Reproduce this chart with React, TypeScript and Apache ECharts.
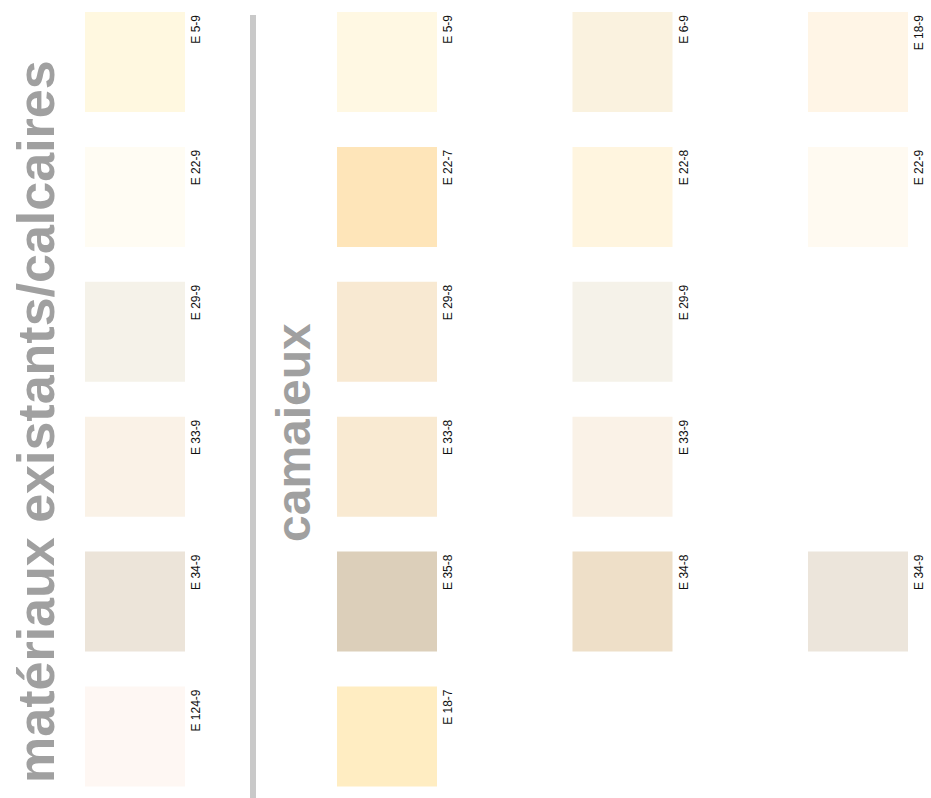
import React, { useEffect, useRef } from "react";
import * as echarts from "echarts";

// Rows of the colour chart (top to bottom)
const rows = ["r1", "r2", "r3", "r4", "r5", "r6"];

// Left block: matériaux existants / calcaires
const existingColumn = ["existants"];
const existingCodes = ["E 5-9", "E 22-9", "E 29-9", "E 33-9", "E 34-9", "E 124-9"];
const existingColors = ["#fff8e0", "#fffcf3", "#f5f2e9", "#faf2e7", "#ece4d9", "#fef7f3"];

// Right block: camaïeux, three columns (null = empty cell)
const camaieuxColumns = ["c1", "c2", "c3"];
const camaieux1Codes = ["E 5-9", "E 22-7", "E 29-8", "E 33-8", "E 35-8", "E 18-7"];
const camaieux1Colors = ["#fff8e3", "#fee5b9", "#f8e9d2", "#f9ead2", "#dccfba", "#ffedc2"];
const camaieux2Codes = ["E 6-9", "E 22-8", "E 29-9", "E 33-9", "E 34-8", null];
const camaieux2Colors = ["#faf2df", "#fff5df", "#f5f2e9", "#faf2e7", "#eedfc8", null];
const camaieux3Codes = ["E 18-9", "E 22-9", null, null, "E 34-9", null];
const camaieux3Colors = ["#fff5e6", "#fffaf1", null, null, "#ece5db", null];

const titleExisting = "matériaux existants/calcaires";
const titleCamaieux = "camaieux";

function cells(col: string, codes: (string | null)[], colors: (string | null)[]) {
  const out: any[] = [];
  codes.forEach((code, i) => {
    if (code && colors[i]) {
      out.push({ name: code, value: [col, rows[i]], itemStyle: { color: colors[i], opacity: 1 } });
    }
  });
  return out;
}

export default function App() {
  const ref = useRef<HTMLDivElement>(null);
  useEffect(() => {
    if (!ref.current) return;
    const chart = echarts.init(ref.current, undefined, { renderer: "svg" });
    const label = {
      show: true,
      formatter: "{b}",
      position: [111, 3],
      rotate: 90,
      align: "right",
      verticalAlign: "middle",
      fontSize: 12,
      fontFamily: "Liberation Sans",
      color: "#111",
    };
    const yAxisBase = {
      type: "category",
      data: rows,
      inverse: true,
      boundaryGap: false,
      show: false,
    };
    const seriesBase = {
      type: "scatter",
      symbol: "rect",
      symbolSize: [100, 100],
      silent: true,
      itemStyle: { opacity: 1 },
      label,
      emphasis: { disabled: true },
    };
    chart.setOption({
      animation: false,
      backgroundColor: "#ffffff",
      grid: [
        { left: 85, width: 100, top: 62, height: 674.5 },
        { left: 387, width: 471, top: 62, height: 674.5 },
      ],
      xAxis: [
        { type: "category", data: existingColumn, gridIndex: 0, boundaryGap: true, show: false },
        { type: "category", data: camaieuxColumns, gridIndex: 1, boundaryGap: false, show: false },
      ],
      yAxis: [
        { ...yAxisBase, gridIndex: 0 },
        { ...yAxisBase, gridIndex: 1 },
      ],
      series: [
        { ...seriesBase, xAxisIndex: 0, yAxisIndex: 0, data: cells("existants", existingCodes, existingColors) },
        {
          ...seriesBase,
          xAxisIndex: 1,
          yAxisIndex: 1,
          data: [
            ...cells("c1", camaieux1Codes, camaieux1Colors),
            ...cells("c2", camaieux2Codes, camaieux2Colors),
            ...cells("c3", camaieux3Codes, camaieux3Colors),
          ],
        },
      ],
      graphic: [
        {
          type: "text",
          x: 36,
          y: 783,
          rotation: Math.PI / 2,
          silent: true,
          style: {
            text: titleExisting,
            fontSize: 52,
            fontWeight: "bold",
            fontFamily: "Liberation Sans",
            fill: "#a0a0a0",
            align: "left",
            verticalAlign: "middle",
          },
        },
        {
          type: "text",
          x: 293,
          y: 542,
          rotation: Math.PI / 2,
          silent: true,
          style: {
            text: titleCamaieux,
            fontSize: 48,
            fontWeight: "bold",
            fontFamily: "Liberation Sans",
            fill: "#a0a0a0",
            align: "left",
            verticalAlign: "middle",
          },
        },
        {
          type: "rect",
          silent: true,
          shape: { x: 250, y: 15, width: 6, height: 790 },
          style: { fill: "#c9c9c9" },
        },
      ],
    });
    return () => chart.dispose();
  }, []);
  return (
    <div
      ref={ref}
      style={{ position: "absolute", left: 0, top: 0, width: 931, height: 798 }}
    />
  );
}
